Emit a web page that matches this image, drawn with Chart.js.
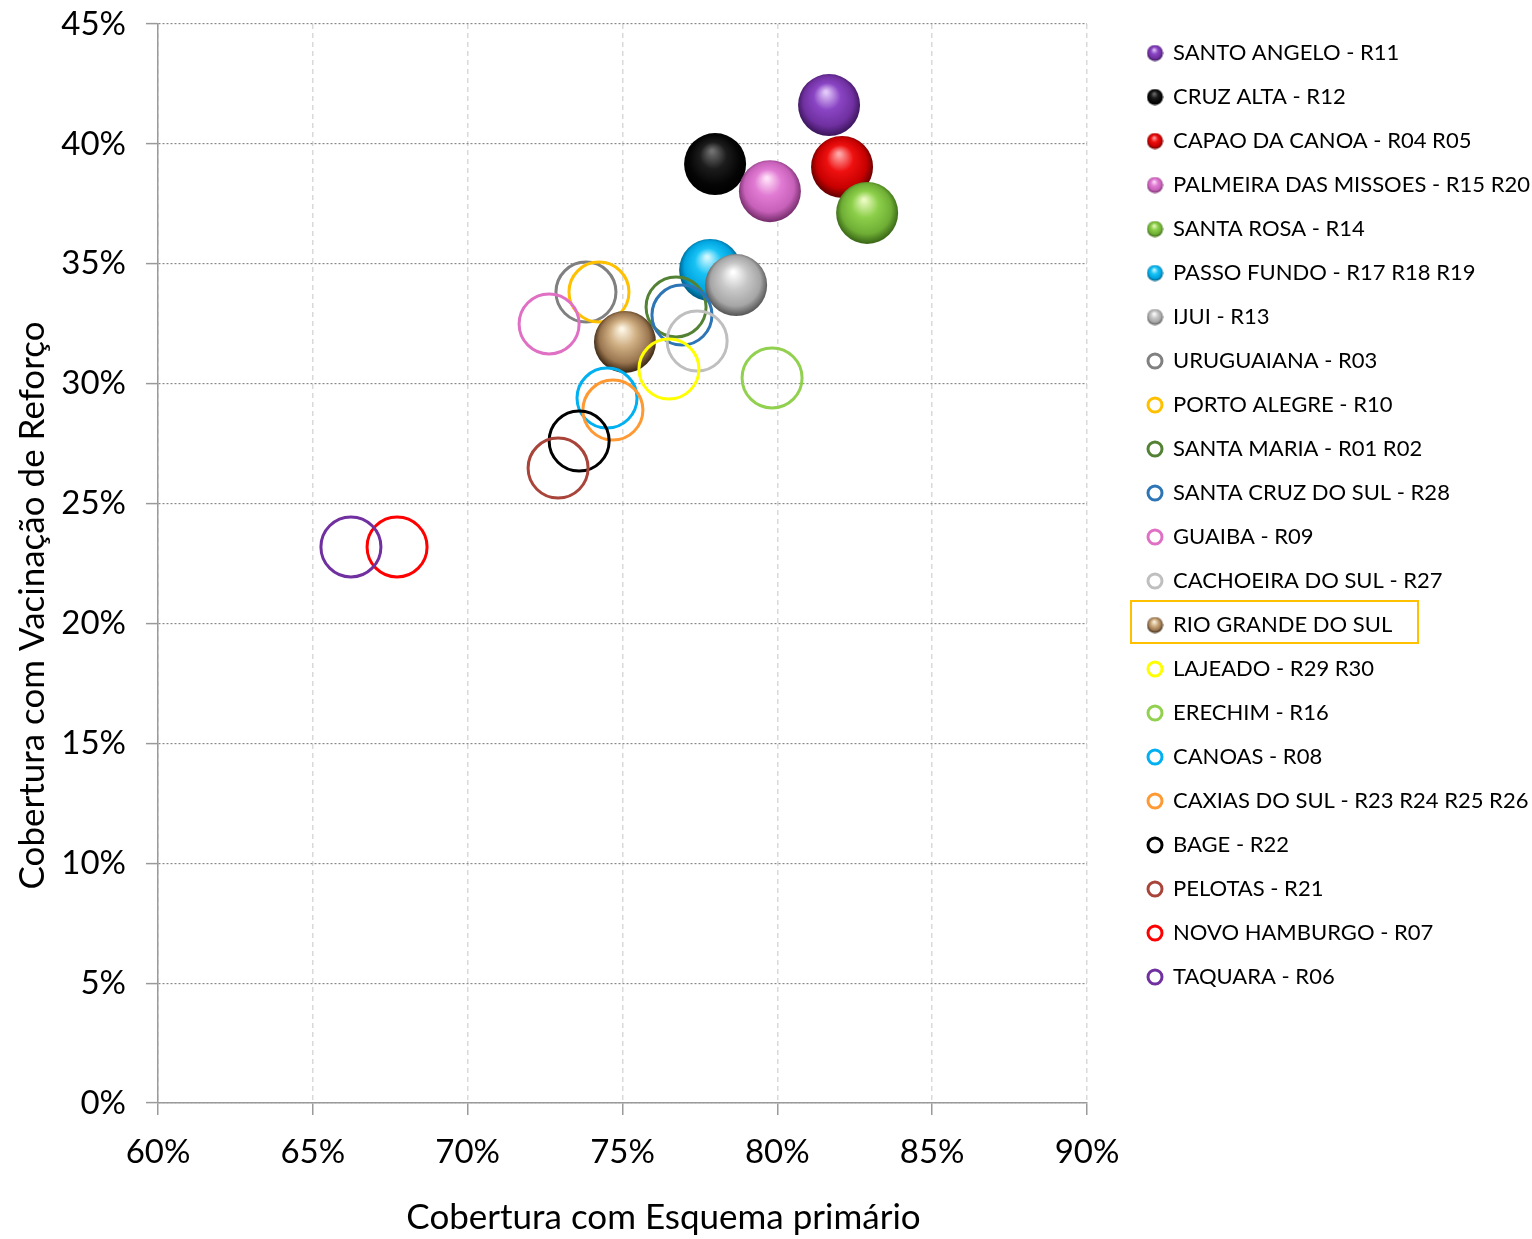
<!DOCTYPE html>
<html>
<head>
<meta charset="utf-8">
<script src="https://cdn.jsdelivr.net/npm/chart.js@4.4.1/dist/chart.umd.min.js"></script>
<style>
  html, body { margin: 0; padding: 0; background: #ffffff; }
  #wrap { width: 1532px; height: 1239px; position: relative; }
</style>
</head>
<body>
<div id="wrap"><canvas id="c" width="1532" height="1239"></canvas></div>
<script>
// ---------- DATA ----------
const regions = [
  "SANTO ANGELO - R11",
  "CRUZ ALTA - R12",
  "CAPAO DA CANOA - R04 R05",
  "PALMEIRA DAS MISSOES - R15 R20",
  "SANTA ROSA - R14",
  "PASSO FUNDO - R17 R18 R19",
  "IJUI - R13",
  "URUGUAIANA - R03",
  "PORTO ALEGRE - R10",
  "SANTA MARIA - R01 R02",
  "SANTA CRUZ DO SUL - R28",
  "GUAIBA - R09",
  "CACHOEIRA DO SUL - R27",
  "RIO GRANDE DO SUL",
  "LAJEADO - R29 R30",
  "ERECHIM - R16",
  "CANOAS - R08",
  "CAXIAS DO SUL - R23 R24 R25 R26",
  "BAGE - R22",
  "PELOTAS - R21",
  "NOVO HAMBURGO - R07",
  "TAQUARA - R06"
];
// Cobertura com Esquema primário (%)
const primaryCoverage = [81.67, 77.99, 82.09, 79.76, 82.90, 77.83, 78.67, 73.82, 74.24, 76.73, 76.92, 72.63, 77.41, 75.08, 76.50, 79.83, 74.50, 74.69, 73.60, 72.92, 67.72, 66.23];
// Cobertura com Vacinação de Reforço (%)
const boosterCoverage = [41.62, 39.16, 39.04, 38.03, 37.12, 34.74, 34.11, 33.82, 33.82, 33.20, 32.86, 32.49, 31.78, 31.74, 30.61, 30.24, 29.40, 28.90, 27.61, 26.48, 23.19, 23.19];
const xTicks = [60, 65, 70, 75, 80, 85, 90];
const yTicks = [0, 5, 10, 15, 20, 25, 30, 35, 40, 45];
const xTitle = "Cobertura com Esquema primário";
const yTitle = "Cobertura com Vacinação de Reforço";
const highlightedRegion = "RIO GRANDE DO SUL";

// ---------- STYLES ----------
const sphereStyles = {
  "SANTO ANGELO - R11": { hi: "#e2c8fa", mid: "#8a45c4", base: "#7030a0", dark: "#3e1760" },
  "CRUZ ALTA - R12": { hi: "#707070", mid: "#1c1c1c", base: "#050505", dark: "#000000" },
  "CAPAO DA CANOA - R04 R05": { hi: "#ffa8a8", mid: "#ee1010", base: "#c80000", dark: "#6a0000" },
  "PALMEIRA DAS MISSOES - R15 R20": { hi: "#ffe0f8", mid: "#e07ad2", base: "#c660b8", dark: "#7a3070" },
  "SANTA ROSA - R14": { hi: "#eafac0", mid: "#8ccf4a", base: "#6fae35", dark: "#3c6a18" },
  "PASSO FUNDO - R17 R18 R19": { hi: "#d2f8ff", mid: "#18c2f4", base: "#00a4e0", dark: "#005e86" },
  "IJUI - R13": { hi: "#ffffff", mid: "#c8c8c8", base: "#a6a6a6", dark: "#5a5a5a" },
  "RIO GRANDE DO SUL": { hi: "#fdf5e4", mid: "#cfae82", base: "#9a7650", dark: "#3e2a16" }
};
const ringColors = {
  "URUGUAIANA - R03": "#808080",
  "PORTO ALEGRE - R10": "#ffc000",
  "SANTA MARIA - R01 R02": "#548235",
  "SANTA CRUZ DO SUL - R28": "#2e75b6",
  "GUAIBA - R09": "#e070c4",
  "CACHOEIRA DO SUL - R27": "#bfbfbf",
  "LAJEADO - R29 R30": "#ffff00",
  "ERECHIM - R16": "#92d050",
  "CANOAS - R08": "#00b0f0",
  "CAXIAS DO SUL - R23 R24 R25 R26": "#ff9933",
  "BAGE - R22": "#000000",
  "PELOTAS - R21": "#a9443a",
  "NOVO HAMBURGO - R07": "#ff0000",
  "TAQUARA - R06": "#7030a0"
};
const FONT = "Lato";
const RING_R = 30;
const SPHERE_R = 31;

function sphereGradient(ctx, cx, cy, r, s) {
  const g = ctx.createRadialGradient(cx - r * 0.1, cy - r * 0.42, r * 0.04, cx, cy - r * 0.05, r * 1.02);
  g.addColorStop(0, s.hi);
  g.addColorStop(0.4, s.mid);
  g.addColorStop(0.78, s.base);
  g.addColorStop(1, s.dark);
  return g;
}
function legendIcon(s) {
  const cv = document.createElement('canvas');
  cv.width = 17; cv.height = 17;
  const c = cv.getContext('2d');
  c.fillStyle = sphereGradient(c, 8.5, 8.5, 8, s);
  c.beginPath(); c.arc(8.5, 8.5, 8, 0, Math.PI * 2); c.fill();
  return cv;
}

const datasets = regions.map((name, i) => {
  const s = sphereStyles[name];
  const base = {
    label: name,
    data: [{ x: primaryCoverage[i], y: boosterCoverage[i] }],
    radius: s ? SPHERE_R : RING_R,
    hoverRadius: 0,
    order: -i
  };
  if (s) {
    base.backgroundColor = (ctx) => {
      if (ctx.type !== 'data' || !ctx.parsed) return s.base;
      const ch = ctx.chart;
      if (!ch.scales || !ch.scales.x || !ch.scales.y) return s.base;
      const px = ch.scales.x.getPixelForValue(ctx.parsed.x);
      const py = ch.scales.y.getPixelForValue(ctx.parsed.y);
      if (!isFinite(px) || !isFinite(py)) return s.base;
      return sphereGradient(ch.ctx, px, py, SPHERE_R, s);
    };
    base.borderWidth = 0;
    base.borderColor = 'rgba(0,0,0,0)';
  } else {
    base.backgroundColor = 'rgba(0,0,0,0)';
    base.borderColor = ringColors[name];
    base.borderWidth = 3;
  }
  return base;
});

// Places the legend column and nudges the axis titles to where the original has them.
const layoutTweaks = {
  id: 'layoutTweaks',
  afterLayout(chart) {
    const lg = chart.legend;
    if (lg) {
      const h = lg.height;
      lg.left = 1126; lg.right = 1532; lg.width = lg.right - lg.left;
      lg.top = 20; lg.bottom = lg.top + h;
    }
    const sx = chart.scales.x, sy = chart.scales.y;
    if (sx && !sx._titlePatched) {
      const orig = sx.drawTitle.bind(sx);
      sx.drawTitle = function () {
        const l = this.left; this.left = l + 82; orig(); this.left = l;
      };
      sx._titlePatched = true;
    }
    if (sy && !sy._titlePatched) {
      const orig = sy.drawTitle.bind(sy);
      sy.drawTitle = function () {
        const t = this.top; this.top = t + 84; orig(); this.top = t;
      };
      sy._titlePatched = true;
    }
  }
};
const highlightBox = {
  id: 'highlightBox',
  afterDraw(chart) {
    const lg = chart.legend;
    const idx = regions.indexOf(highlightedRegion);
    if (!lg || idx < 0) return;
    const pad = lg.options.labels.padding;
    const fs = lg.options.labels.font.size;
    const cy = lg.top + pad + idx * (fs + pad) + fs / 2;
    const ctx = chart.ctx;
    ctx.save();
    ctx.strokeStyle = '#ffc000';
    ctx.lineWidth = 2;
    ctx.strokeRect(1131, cy - 24, 287, 42);
    ctx.restore();
  }
};

const tickFont = { family: FONT, size: 33 };
const titleFont = { family: FONT, size: 35 };
new Chart(document.getElementById('c'), {
  type: 'bubble',
  data: { datasets },
  plugins: [layoutTweaks, highlightBox],
  options: {
    responsive: false,
    animation: false,
    events: [],
    layout: { autoPadding: false, padding: { top: 24, left: 0, right: 145, bottom: 0 } },
    scales: {
      x: {
        type: 'linear',
        min: xTicks[0], max: xTicks[xTicks.length - 1],
        afterBuildTicks: (sc) => { sc.ticks = xTicks.map(v => ({ value: v })); },
        afterFit: (sc) => { sc.height = 136; },
        ticks: { font: tickFont, color: '#000', padding: 18, callback: (v) => v + '%' },
        grid: { color: '#d9d9d9', lineWidth: 1.5, tickLength: 12, tickColor: '#9a9a9a', tickWidth: 1.5, tickBorderDash: [] },
        border: { color: '#9a9a9a', width: 1.5, dash: [5, 4] },
        title: { display: true, text: xTitle, color: '#000', font: titleFont, padding: { top: 4, bottom: 0 } }
      },
      y: {
        type: 'linear',
        min: yTicks[0], max: yTicks[yTicks.length - 1],
        afterBuildTicks: (sc) => { sc.ticks = yTicks.map(v => ({ value: v })); },
        afterFit: (sc) => { sc.width = 158; sc.paddingTop = 14; sc.paddingBottom = 14; },
        ticks: { font: tickFont, color: '#000', padding: 20, callback: (v) => v + '%' },
        grid: { color: '#8a8a8a', lineWidth: 1.2, tickLength: 12, tickColor: '#9a9a9a', tickWidth: 1.5, tickBorderDash: [] },
        border: { color: '#9a9a9a', width: 1.5, dash: [2, 2] },
        title: { display: true, text: yTitle, color: '#000', font: titleFont, padding: { top: 12, bottom: 0 } }
      }
    },
    plugins: {
      tooltip: { enabled: false },
      legend: {
        position: 'right',
        align: 'start',
        maxWidth: 300,
        labels: {
          usePointStyle: true,
          pointStyleWidth: 14,
          boxHeight: 10,
          padding: 22,
          color: '#000',
          font: { family: FONT, size: 22 },
          generateLabels: () => regions.map((name, i) => {
            const s = sphereStyles[name];
            return s ? {
              text: name, datasetIndex: i, hidden: false,
              pointStyle: legendIcon(s), fillStyle: s.base, strokeStyle: s.base, lineWidth: 0, fontColor: '#000'
            } : {
              text: name, datasetIndex: i, hidden: false,
              pointStyle: 'circle', fillStyle: 'rgba(0,0,0,0)', strokeStyle: ringColors[name], lineWidth: 3, fontColor: '#000'
            };
          })
        }
      }
    }
  }
});
</script>
</body>
</html>
